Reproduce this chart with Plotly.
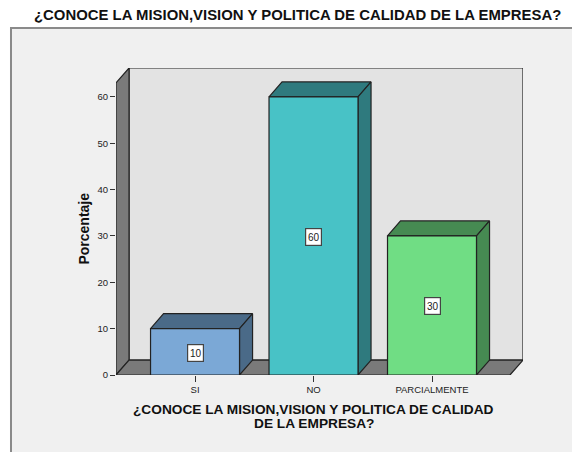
import plotly.graph_objects as go

categories = ["SI", "NO", "PARCIALMENTE"]
values = [10, 60, 30]
front_colors = ["#7ba8d6", "#48c2c6", "#70dd84"]
dark_colors = ["#4a6a88", "#2f7a7e", "#468a52"]
y_ticks = [0, 10, 20, 30, 40, 50, 60]
axis_top = 63
title_text = "¿CONOCE LA MISION,VISION Y POLITICA DE CALIDAD DE LA EMPRESA?"
x_title_lines = ["¿CONOCE LA MISION,VISION Y POLITICA DE CALIDAD", "DE LA EMPRESA?"]
y_title = "Porcentaje"

FONT = "Liberation Sans"
DX, DY = 0.11, 3.23
BW = 0.751
X0, X1 = -0.667, 2.658
EDGE = "#222222"

xs = list(range(len(categories)))
fig = go.Figure()


def poly(px, py, fill, lw=1.2, line=EDGE):
    fig.add_trace(go.Scatter(x=px + px[:1], y=py + py[:1], mode="lines", fill="toself",
                             fillcolor=fill, line=dict(color=line, width=lw),
                             hoverinfo="skip", showlegend=False, cliponaxis=False))


# walls and floor
poly([X0 + DX, X1 + DX, X1 + DX, X0 + DX], [DY, DY, axis_top + DY, axis_top + DY], "#e3e3e3", 1.2, "#222222")
poly([X0, X0 + DX, X0 + DX, X0], [0, DY, axis_top + DY, axis_top], "#7a7a7a")
poly([X0, X1, X1 + DX, X0 + DX], [0, 0, DY, DY], "#7a7a7a")

# bars
for x, v, fc, dc in zip(xs, values, front_colors, dark_colors):
    l, r = x - BW / 2, x + BW / 2
    poly([l, r, r + DX, l + DX], [v, v, v + DY, v + DY], dc)
    poly([r, r + DX, r + DX, r], [0, DY, v + DY, v], dc)
    poly([l, r, r, l], [0, 0, v, v], fc)

for x, v in zip(xs, values):
    fig.add_annotation(x=x, y=v / 2 - 0.2, text=str(v), showarrow=False, bgcolor="white",
                       bordercolor="#444444", borderwidth=1.2, borderpad=1, width=13, height=14,
                       font=dict(family=FONT, size=10, color="#222222"))

for line_text, ypos in zip(x_title_lines, [-0.1135, -0.1590]):
    fig.add_annotation(xref="x", yref="paper", x=xs[1], y=ypos, yanchor="middle", text=line_text,
                       showarrow=False, align="center",
                       font=dict(family=FONT, size=13.7, color="#111111", weight="bold"))
fig.add_annotation(xref="paper", x=-0.081, xanchor="center", y=31.6, textangle=-90, text=y_title,
                   showarrow=False,
                   font=dict(family=FONT, size=14, color="#111111", weight="bold"))
fig.add_annotation(xref="paper", yref="paper", x=0.445, y=1.172, yanchor="middle", text=title_text,
                   showarrow=False, font=dict(family=FONT, size=14.9, color="#111111", weight="bold"))

# outer frame
fig.add_shape(type="rect", xref="paper", yref="paper", x0=-0.258, x1=1.2, y0=-0.4, y1=1.13,
              fillcolor="#f0f0f0", line=dict(color="#8a8a8a", width=2), layer="below")

fig.update_layout(
    width=572, height=452, autosize=False, showlegend=False,
    paper_bgcolor="white", plot_bgcolor="rgba(0,0,0,0)",
    margin=dict(l=116, r=49, t=68, b=76.5),
    xaxis=dict(range=[X0, X1 + DX], tickmode="array", tickvals=xs, ticktext=categories,
               ticks="outside", ticklen=6, tickwidth=1.2, tickcolor="#333333", showgrid=False,
               zeroline=False, showline=False, tickfont=dict(family=FONT, size=9.5, color="#222222")),
    yaxis=dict(range=[0, axis_top + DY], tickmode="array", tickvals=y_ticks,
               ticks="outside", ticklen=5, tickwidth=1.2, tickcolor="#333333", showgrid=False,
               zeroline=False, showline=False, tickfont=dict(family=FONT, size=9.5, color="#222222")),
)
fig.write_html("out.html", config={"displayModeBar": False},
               post_script="document.body.style.margin='0';document.documentElement.style.overflow='hidden';")
